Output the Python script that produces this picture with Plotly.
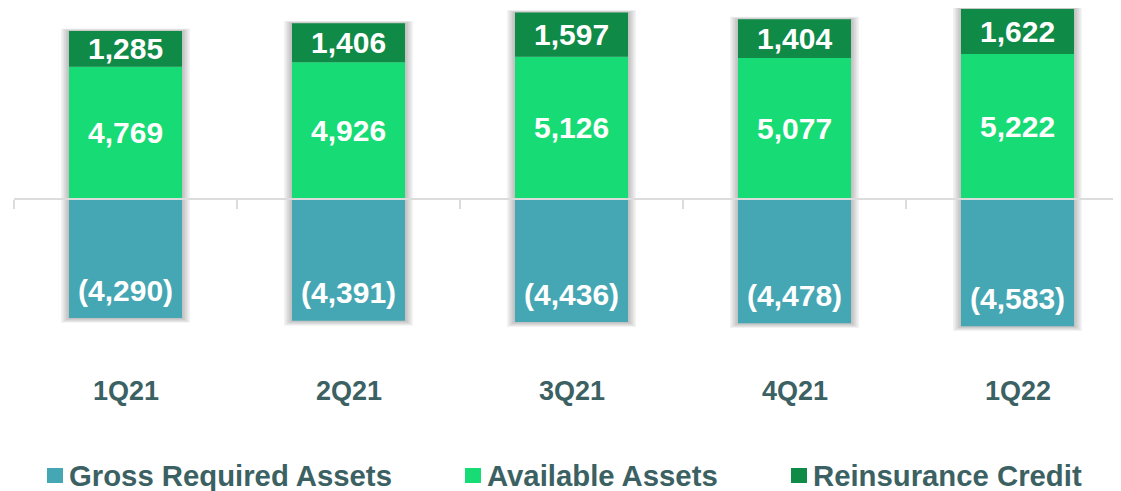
import plotly.graph_objects as go

categories = ["1Q21", "2Q21", "3Q21", "4Q21", "1Q22"]
gross_required = [-4290, -4391, -4436, -4478, -4583]
available = [4769, 4926, 5126, 5077, 5222]
reinsurance = [1285, 1406, 1597, 1404, 1622]
series_names = ["Gross Required Assets", "Available Assets", "Reinsurance Credit"]

C_GROSS = "#45a7b3"
C_AVAIL = "#17db74"
C_REIN = "#0f8a47"
C_TEXT = "#3b6163"
FONT = "Liberation Sans, Arial, sans-serif"

OFF = 8  # page body margin
W, H = 1121 - OFF, 491 - OFF
ML, MR, MT, MB = 14 - OFF, 0, 0, 151
PW, PH = W - ML - MR, H - MT - MB
ZERO_Y = 199 - OFF
PX_PER_UNIT = 0.02775
Y_MAX = ZERO_Y / PX_PER_UNIT
Y_MIN = -(PH - ZERO_Y) / PX_PER_UNIT
BAND = 223.0
BAR_W = 113 / BAND


def fmt(v):
    return f"({abs(v):,})" if v < 0 else f"{v:,}"


def px_x(px):
    return (px - OFF - ML) / PW


def px_y(py):
    return (PH - (py - OFF)) / PH


fig = go.Figure()

# soft shadow behind each stack
totals = [a + r for a, r in zip(available, reinsurance)]
for k in range(1, 6):
    ext = 1.6 * k
    fig.add_trace(go.Bar(
        x=categories,
        y=[t - g + (ext * 0.9) / PX_PER_UNIT for t, g in zip(totals, gross_required)],
        base=[g - (ext * 0.6) / PX_PER_UNIT for g in gross_required],
        width=BAR_W + 2 * ext / BAND,
        marker=dict(color="rgba(0,0,0,0.05)", line=dict(width=0)),
        hoverinfo="skip", showlegend=False,
    ))

fig.add_trace(go.Bar(x=categories, y=gross_required, base=0, width=BAR_W,
                     name=series_names[0], marker=dict(color=C_GROSS, line=dict(width=0)),
                     showlegend=False))
fig.add_trace(go.Bar(x=categories, y=available, base=0, width=BAR_W,
                     name=series_names[1], marker=dict(color=C_AVAIL, line=dict(width=0)),
                     showlegend=False))
fig.add_trace(go.Bar(x=categories, y=reinsurance, base=available, width=BAR_W,
                     name=series_names[2], marker=dict(color=C_REIN, line=dict(width=0)),
                     showlegend=False))

annotations = []
label_font = dict(family=FONT, size=30, color="white")
for c, g, a, r in zip(categories, gross_required, available, reinsurance):
    annotations.append(dict(x=c, y=a + r / 2, xref="x", yref="y", text=f"<b>{fmt(r)}</b>",
                            showarrow=False, font=label_font, yanchor="middle"))
    annotations.append(dict(x=c, y=a / 2, xref="x", yref="y", text=f"<b>{fmt(a)}</b>",
                            showarrow=False, font=label_font, yanchor="middle"))
    annotations.append(dict(x=c, y=g, xref="x", yref="y", text=f"<b>{fmt(g)}</b>",
                            showarrow=False, font=label_font, yanchor="middle", yshift=28))
    annotations.append(dict(x=c, y=px_y(391), xref="x", yref="paper", text=f"<b>{c}</b>",
                            showarrow=False, font=dict(family=FONT, size=27, color=C_TEXT),
                            yanchor="middle"))

# manual legend
legend_items = [
    (series_names[0], C_GROSS, 47, 69),
    (series_names[1], C_AVAIL, 465, 487),
    (series_names[2], C_REIN, 791, 813),
]
shapes = []
for name, col, sx, tx in legend_items:
    shapes.append(dict(type="rect", xref="paper", yref="paper",
                       x0=px_x(sx), x1=px_x(sx + 16), y0=px_y(483), y1=px_y(468),
                       fillcolor=col, line=dict(width=0)))
    annotations.append(dict(x=px_x(tx - 2), y=px_y(475), xref="paper", yref="paper",
                            text=f"<b>{name}</b>", showarrow=False, xanchor="left",
                            yanchor="middle", font=dict(family=FONT, size=29.3, color=C_TEXT)))

fig.update_layout(
    width=W, height=H,
    margin=dict(l=ML, r=MR, t=MT, b=MB),
    barmode="overlay",
    plot_bgcolor="white", paper_bgcolor="white",
    showlegend=False,
    annotations=annotations,
    shapes=shapes,
    xaxis=dict(
        type="category", range=[-0.5, -0.5 + PW / BAND],
        anchor="free", position=(0 - Y_MIN) / (Y_MAX - Y_MIN),
        showline=True, linecolor="#dcdcdc", linewidth=2,
        ticks="outside", tickson="boundaries", ticklen=9, tickwidth=2, tickcolor="#dcdcdc",
        showticklabels=False, showgrid=False, zeroline=False, layer="above traces",
    ),
    yaxis=dict(range=[Y_MIN, Y_MAX], visible=False, showgrid=False, zeroline=False),
)

fig.write_html("out.html")
